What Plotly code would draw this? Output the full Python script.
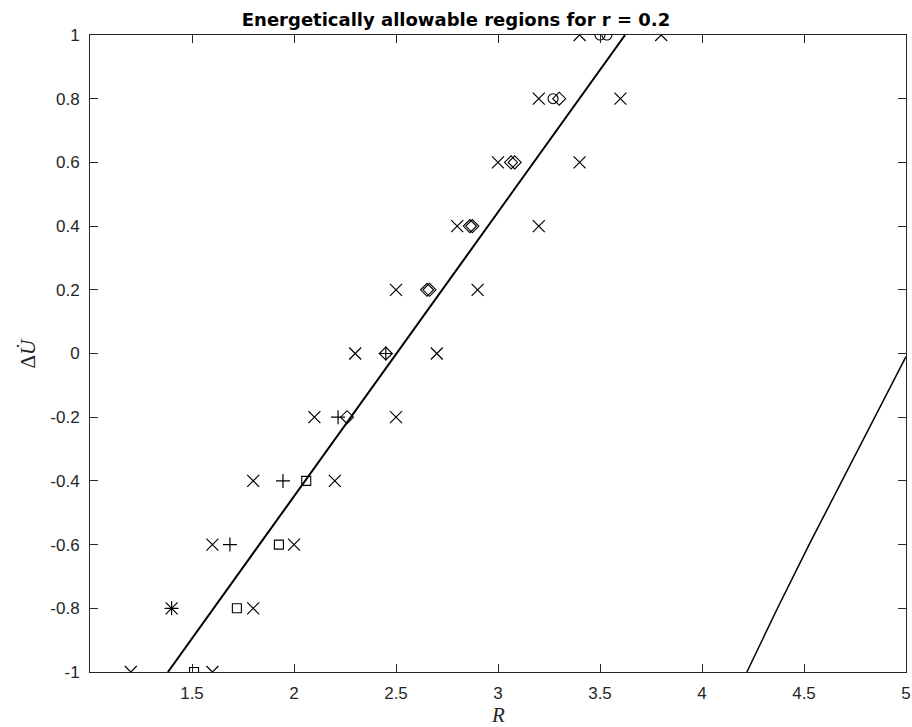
import plotly.graph_objects as go

# ---- data ----
cross_x = [1.20, 1.60, 1.40, 1.80, 1.60, 2.00, 1.80, 2.20, 2.10, 2.50, 2.30, 2.70,
           2.50, 2.90, 2.80, 3.20, 3.00, 3.40, 3.20, 3.60, 3.40, 3.80]
cross_y = [-1.0, -1.0, -0.8, -0.8, -0.6, -0.6, -0.4, -0.4, -0.2, -0.2, 0.0, 0.0,
           0.2, 0.2, 0.4, 0.4, 0.6, 0.6, 0.8, 0.8, 1.0, 1.0]

plus_x = [1.40, 1.686, 1.946, 2.216, 2.45]
plus_y = [-0.8, -0.6, -0.4, -0.2, 0.0]

square_x = [1.51, 1.72, 1.926, 2.06]
square_y = [-1.0, -0.8, -0.6, -0.4]

diamond_x = [2.26, 2.45, 2.652, 2.664, 2.862, 2.874, 3.064, 3.082, 3.30]
diamond_y = [-0.2, 0.0, 0.2, 0.2, 0.4, 0.4, 0.6, 0.6, 0.8]

circle_x = [3.27, 3.50, 3.534]
circle_y = [0.8, 1.0, 1.0]

line_x = [1.382, 3.623]
line_y = [-1.0, 1.0]

curve_x = [4.22, 4.37, 4.525, 4.685, 4.845, 5.0]
curve_y = [-1.0, -0.8, -0.6, -0.4, -0.2, -0.01]

xtick_vals = [1.5, 2, 2.5, 3, 3.5, 4, 4.5, 5]
xtick_text = ["1.5", "2", "2.5", "3", "3.5", "4", "4.5", "5"]
ytick_vals = [-1, -0.8, -0.6, -0.4, -0.2, 0, 0.2, 0.4, 0.6, 0.8, 1]
ytick_text = ["-1", "-0.8", "-0.6", "-0.4", "-0.2", "0", "0.2", "0.4", "0.6", "0.8", "1"]

title_text = "Energetically allowable regions for r = 0.2"

# ---- figure ----
ink = "black"
axc = "#262626"
fig = go.Figure()

fig.add_trace(go.Scatter(x=line_x, y=line_y, mode="lines",
                         line=dict(color=ink, width=2), showlegend=False))
fig.add_trace(go.Scatter(x=curve_x, y=curve_y, mode="lines",
                         line=dict(color=ink, width=1.5), showlegend=False))

fig.add_trace(go.Scatter(x=cross_x, y=cross_y, mode="markers", showlegend=False,
                         marker=dict(symbol="x-thin-open", size=12, color=ink,
                                     line=dict(color=ink, width=1.2))))
fig.add_trace(go.Scatter(x=plus_x, y=plus_y, mode="markers", showlegend=False,
                         marker=dict(symbol="cross-thin-open", size=10, color=ink,
                                     line=dict(color=ink, width=1.2))))
fig.add_trace(go.Scatter(x=square_x, y=square_y, mode="markers", showlegend=False,
                         marker=dict(symbol="square-open", size=9, color=ink,
                                     line=dict(color=ink, width=1.1))))
fig.add_trace(go.Scatter(x=diamond_x, y=diamond_y, mode="markers", showlegend=False,
                         marker=dict(symbol="diamond-open", size=10, color=ink,
                                     line=dict(color=ink, width=1.1))))
fig.add_trace(go.Scatter(x=circle_x, y=circle_y, mode="markers", showlegend=False,
                         marker=dict(symbol="circle-open", size=10, color=ink,
                                     line=dict(color=ink, width=1.1))))

tickfont = dict(family="Liberation Sans, Arial, sans-serif", size=17, color=axc)

fig.update_layout(
    width=912, height=727,
    paper_bgcolor="white", plot_bgcolor="white",
    margin=dict(l=90, r=6, t=35, b=55, autoexpand=False),
    title=dict(text="<b>" + title_text + "</b>", x=0.5, xref="container", xanchor="center",
               y=1 - 20 / 727, yref="container", yanchor="middle",
               font=dict(family="DejaVu Sans, sans-serif", size=18, color="black")),
    xaxis=dict(range=[1.0, 5.0], tickvals=xtick_vals, ticktext=xtick_text,
               showgrid=False, zeroline=False, showline=True, linecolor=axc, linewidth=1,
               mirror="ticks", ticks="inside", ticklen=8, tickcolor=axc, tickwidth=1,
               tickfont=tickfont, ticklabelstandoff=6),
    yaxis=dict(range=[-1.0, 1.0], tickvals=ytick_vals, ticktext=ytick_text,
               showgrid=False, zeroline=False, showline=True, linecolor=axc, linewidth=1,
               mirror="ticks", ticks="inside", ticklen=8, tickcolor=axc, tickwidth=1,
               tickfont=tickfont, ticklabelstandoff=6),
    annotations=[
        dict(text="<i>R</i>", xref="paper", yref="paper", x=0.5, y=-43 / 637,
             xanchor="center", yanchor="middle", showarrow=False,
             font=dict(family="Liberation Serif, DejaVu Serif, serif", size=21, color=axc)),
        dict(text="Δ<i>U\u0307</i>", xref="paper", yref="paper", x=-63 / 816, y=0.5,
             xanchor="center", yanchor="middle", showarrow=False, textangle=-90,
             font=dict(family="Liberation Serif, DejaVu Serif, serif", size=21, color=axc)),
    ],
)

fig.write_html("out.html")
